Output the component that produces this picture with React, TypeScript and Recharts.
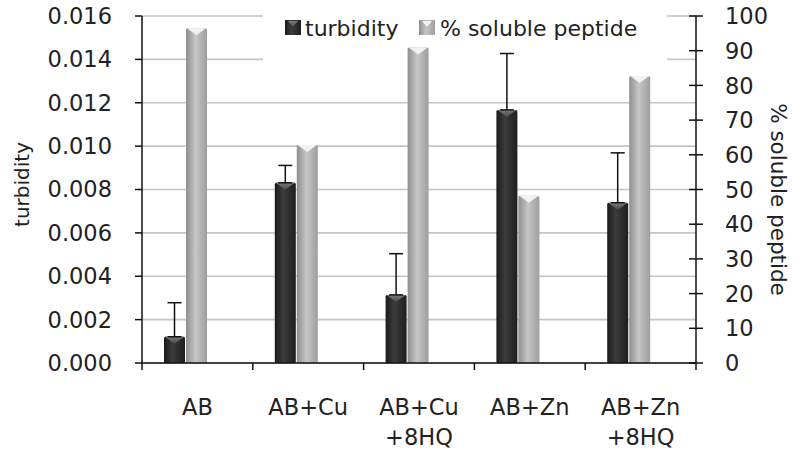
import React from "react"
import { BarChart, Bar, XAxis, YAxis, CartesianGrid, ErrorBar } from "recharts"

// values
const categories = ["AB", "AB+Cu", "AB+Cu +8HQ", "AB+Zn", "AB+Zn +8HQ"]
const turbidity = [0.00121, 0.00831, 0.00314, 0.01167, 0.00739]
const turbidityErr = [0.00157, 0.0008, 0.0019, 0.0026, 0.0023]
const solublePeptide = [96.5, 62.8, 90.9, 48.2, 82.7]
const leftTicks = [0, 0.002, 0.004, 0.006, 0.008, 0.01, 0.012, 0.014, 0.016]
const rightTicks = [0, 10, 20, 30, 40, 50, 60, 70, 80, 90, 100]

const data = categories.map((name, i) => ({
  name,
  turbidity: turbidity[i],
  turbErr: [0, turbidityErr[i]],
  soluble: solublePeptide[i],
}))

const W = 800
const H = 459
const PLOT_TOP = 16
const LEFT_W = 142
const RIGHT_W = 104
const X_H = 96
const PLOT_W = W - LEFT_W - RIGHT_W
const FONT = "'DejaVu Sans', Verdana, sans-serif"
const INK = "#222"
const AXIS = "#111"
const GRID = "#c4c4c4"
const TICK = 7
const R_MARGIN = 22
// legend sits over the top two gridlines
const LEGEND_GAP = [263, 667]
const LEGEND_BOTTOM = 70

const gridLine = (props: any) => {
  const { x1, x2, y1, y2, index } = props
  const common = { stroke: GRID, strokeWidth: 1.6 }
  if (y1 < LEGEND_BOTTOM) {
    return (
      <g key={`g-${index}`}>
        <line x1={x1} x2={LEGEND_GAP[0]} y1={y1} y2={y2} {...common} />
        <line x1={LEGEND_GAP[1]} x2={x2} y1={y1} y2={y2} {...common} />
      </g>
    )
  }
  return <line key={`g-${index}`} x1={x1} x2={x2} y1={y1} y2={y2} {...common} />
}

const makeShape = (fill: string, cap: string) => (props: any) => {
  const { x, y, width, height } = props
  if (!height || height <= 0) return <g />
  const th = Math.min(7, height)
  return (
    <g>
      <rect x={x} y={y} width={width} height={height} rx={1.5} fill={fill} />
      <polygon points={`${x + 1},${y} ${x + width - 1},${y} ${x + width / 2},${y + th}`} fill={cap} />
    </g>
  )
}

const DarkBar = makeShape("url(#darkGrad)", "url(#darkCap)")
const LightBar = makeShape("url(#lightGrad)", "#f2f2f2")

const XTick = (props: any) => {
  const { x, y, payload, index } = props
  const half = PLOT_W / categories.length / 2
  const lines = String(payload.value).split(" ")
  return (
    <g>
      <line x1={x - half} x2={x - half} y1={y} y2={y + TICK} stroke={AXIS} strokeWidth={1.5} />
      {index === categories.length - 1 && (
        <line x1={x + half} x2={x + half} y1={y} y2={y + TICK} stroke={AXIS} strokeWidth={1.5} />
      )}
      {lines.map((l, i) => (
        <text key={i} x={x} y={y + 52 + i * 30} textAnchor="middle" fill={INK} fontSize={22.5} fontFamily={FONT}>
          {l}
        </text>
      ))}
    </g>
  )
}

const RightTick = (props: any) => {
  const { x, y, payload } = props
  const ax = x - R_MARGIN - TICK
  return (
    <g>
      <line x1={ax - TICK} x2={ax} y1={y} y2={y} stroke={AXIS} strokeWidth={1.5} />
      <text x={x} y={y} dy="0.36em" textAnchor="start" fill={INK} fontSize={22.5} fontFamily={FONT}>
        {payload.value}
      </text>
    </g>
  )
}

const LegendIcon = ({ x, fill, cap }: { x: number; fill: string; cap: string }) => (
  <g>
    <rect x={x} y={20} width={16} height={15} fill={fill} />
    <polygon points={`${x + 3},${21} ${x + 13},${21} ${x + 8},${27}`} fill={cap} />
  </g>
)

export default function App() {
  return (
    <div style={{ position: "absolute", left: 0, top: 0, width: W, height: H, background: "#fff" }}>
      <BarChart
        width={W}
        height={H}
        data={data}
        margin={{ top: PLOT_TOP, right: 0, bottom: 0, left: 0 }}
        barGap={1}
      >
        <defs>
          <linearGradient id="darkGrad" x1="0" y1="0" x2="1" y2="0">
            <stop offset="0%" stopColor="#1a1a1a" />
            <stop offset="40%" stopColor="#3c3c3c" />
            <stop offset="100%" stopColor="#1e1e1e" />
          </linearGradient>
          <linearGradient id="darkCap" x1="0" y1="0" x2="0" y2="1">
            <stop offset="0%" stopColor="#7a7a7a" />
            <stop offset="100%" stopColor="#4a4a4a" />
          </linearGradient>
          <linearGradient id="lightGrad" x1="0" y1="0" x2="1" y2="0">
            <stop offset="0%" stopColor="#8e8e8e" />
            <stop offset="45%" stopColor="#c6c6c6" />
            <stop offset="100%" stopColor="#9e9e9e" />
          </linearGradient>
        </defs>
        <CartesianGrid yAxisId="left" vertical={false} horizontal={gridLine} />
        <XAxis
          dataKey="name"
          interval={0}
          height={X_H}
          axisLine={{ stroke: AXIS, strokeWidth: 1.5 }}
          tickLine={false}
          tickSize={0}
          tickMargin={0}
          tick={<XTick />}
        />
        <YAxis
          yAxisId="left"
          width={LEFT_W}
          domain={[0, 0.016]}
          ticks={leftTicks}
          interval={0}
          tickFormatter={(v: number) => v.toFixed(3)}
          axisLine={{ stroke: AXIS, strokeWidth: 1.5 }}
          tickLine={{ stroke: AXIS, strokeWidth: 1.5 }}
          tickSize={TICK}
          tickMargin={23}
          tick={{ fill: INK, fontSize: 22.5, fontFamily: FONT }}
          label={{
            content: ({ viewBox }: any) => {
              const cx = viewBox.x + 22
              const cy = viewBox.y + viewBox.height / 2 - 5
              return (
                <text x={cx} y={cy} transform={`rotate(-90, ${cx}, ${cy})`} textAnchor="middle"
                  dominantBaseline="central" fill={INK} fontSize={20} fontFamily={FONT}>
                  turbidity
                </text>
              )
            },
          }}
        />
        <YAxis
          yAxisId="right"
          orientation="right"
          width={RIGHT_W}
          domain={[0, 100]}
          ticks={rightTicks}
          interval={0}
          axisLine={{ stroke: AXIS, strokeWidth: 1.5 }}
          tickLine={{ stroke: AXIS, strokeWidth: 1.5 }}
          tickSize={TICK}
          tickMargin={R_MARGIN}
          tick={<RightTick />}
          label={{
            content: ({ viewBox }: any) => {
              const cx = viewBox.x + 82
              const cy = viewBox.y + viewBox.height / 2 + 10
              return (
                <text x={cx} y={cy} transform={`rotate(90, ${cx}, ${cy})`} textAnchor="middle"
                  dominantBaseline="central" fill={INK} fontSize={21.5} fontFamily={FONT}>
                  % soluble peptide
                </text>
              )
            },
          }}
        />
        <Bar yAxisId="left" dataKey="turbidity" barSize={21} shape={DarkBar} isAnimationActive={false}>
          <ErrorBar dataKey="turbErr" direction="y" width={7} stroke={AXIS} strokeWidth={1.5} isAnimationActive={false} />
        </Bar>
        <Bar yAxisId="right" dataKey="soluble" barSize={21} shape={LightBar} isAnimationActive={false} />
        {/* empty third slot, the original keeps the pair left of centre */}
        <Bar yAxisId="left" dataKey="spacer" barSize={22} legendType="none" isAnimationActive={false} />
      </BarChart>
      <svg width={W} height={H} style={{ position: "absolute", left: 0, top: 0, pointerEvents: "none" }}>
        <LegendIcon x={285} fill="url(#darkGrad)" cap="url(#darkCap)" />
        <text x={305} y={36} fill={INK} fontSize={22} fontFamily={FONT}>turbidity</text>
        <LegendIcon x={419} fill="url(#lightGrad)" cap="#f2f2f2" />
        <text x={440} y={36} fill={INK} fontSize={22} fontFamily={FONT}>% soluble peptide</text>
      </svg>
    </div>
  )
}
